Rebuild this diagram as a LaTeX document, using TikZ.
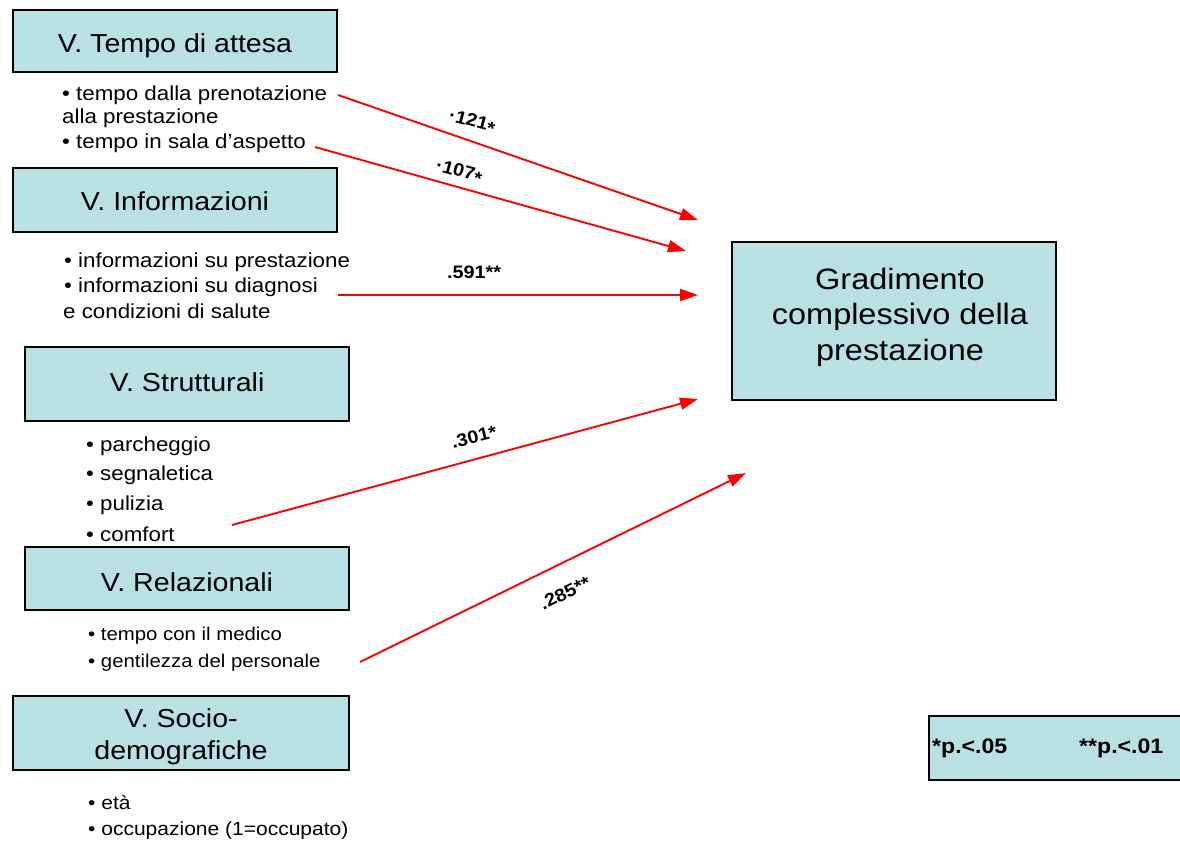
\documentclass[tikz,border=0pt]{standalone}
\usepackage{fontspec}
\setmainfont{Liberation Sans}[FakeStretch=1.1]
\usetikzlibrary{arrows.meta}
\definecolor{boxfill}{RGB}{185,224,227}
\definecolor{arrowred}{RGB}{255,0,0}
\begin{document}
\begin{tikzpicture}[x=1pt,y=-1pt,
  vbox/.style={draw=black,line width=1.6pt,fill=boxfill,inner sep=0pt},
  boxtitle/.style={font=\fontsize{26}{32}\selectfont,inner sep=0pt,align=center},
  bulA/.style={anchor=west,inner sep=0pt,font=\fontsize{20.3}{24}\selectfont},
  bulR/.style={anchor=west,inner sep=0pt,font=\fontsize{18.5}{24}\selectfont},
  bulS/.style={anchor=west,inner sep=0pt,font=\fontsize{19.1}{24}\selectfont},
  conn/.style={draw=arrowred,line width=1.9pt,-{Triangle[length=18pt,width=12pt]}},
  coef/.style={font=\bfseries\fontsize{18}{20}\selectfont,inner sep=0pt},
  legtxt/.style={anchor=west,inner sep=0pt,font=\bfseries\fontsize{21}{24}\selectfont}
]
\useasboundingbox (0,0) rectangle (1180,845);

% left boxes
\node[vbox,minimum width=324pt,minimum height=62pt] (tempo) at (175,41) {};
\node[boxtitle,anchor=base] (tempoT) at (175,53) {V. Tempo di attesa};
\node[vbox,minimum width=324pt,minimum height=64pt] (info) at (175,200) {};
\node[boxtitle,anchor=base] (infoT) at (175,211) {V. Informazioni};
\node[vbox,minimum width=324pt,minimum height=74pt] (strut) at (187,384) {};
\node[boxtitle,anchor=base] (strutT) at (187,391) {V. Strutturali};
\node[vbox,minimum width=324pt,minimum height=63pt] (rel) at (187,578.5) {};
\node[boxtitle,anchor=base] (relT) at (187,591) {V. Relazionali};
\node[vbox,minimum width=336pt,minimum height=74pt] (socio) at (181,733) {};
\node[boxtitle] (socioT) at (181,737) {V. Socio-\\demografiche};

% target box
\node[vbox,minimum width=324pt,minimum height=158pt] (grad) at (894,321) {};
\node[inner sep=0pt,align=center,font=\fontsize{29.5}{35.5}\selectfont] (gradT) at (900,317) {Gradimento\\complessivo della\\prestazione};

% legend
\node[vbox,minimum width=256pt,minimum height=64pt] (legend) at (1057,748) {};
\node[legtxt] (leg1) at (932,748) {*p.<.05};
\node[legtxt] (leg2) at (1079,748) {**p.<.01};

% bullet texts
\node[bulA] (t1) at (62,95) {• tempo dalla prenotazione};
\node[bulA] (t1b) at (62,118) {alla prestazione};
\node[bulA] (t2) at (62,143) {• tempo in sala d’aspetto};
\node[bulA] (i1) at (64,262) {• informazioni su prestazione};
\node[bulA] (i2) at (64,287) {• informazioni su diagnosi};
\node[bulA] (i3) at (63,311) {e condizioni di salute};
\node[bulA] (s1) at (86,446) {• parcheggio};
\node[bulA] (s2) at (86,475) {• segnaletica};
\node[bulA] (s3) at (86,505) {• pulizia};
\node[bulA] (s4) at (86,534) {• comfort};
\node[bulR] (r1) at (88,636) {• tempo con il medico};
\node[bulR] (r2) at (88,663) {• gentilezza del personale};
\node[bulS] (e1) at (88,803) {• età};
\node[bulS] (e2) at (88,831) {• occupazione (1=occupato)};

% connector end points
\coordinate (a1s) at (338,95);
\coordinate (a1e) at (698,220);
\coordinate (a2s) at (315,147);
\coordinate (a2e) at (686,251);
\coordinate (a3s) at (338,295);
\coordinate (a3e) at (698,295);
\coordinate (a4s) at (232,525);
\coordinate (a4e) at (698,399);
\coordinate (a5s) at (360,662);
\coordinate (a5e) at (746,473);

\draw[conn] (a1s) -- (a1e);
\draw[conn] (a2s) -- (a2e);
\draw[conn] (a3s) -- (a3e);
\draw[conn] (a4s) -- (a4e);
\draw[conn] (a5s) -- (a5e);

% coefficients
\node[coef,rotate=-15] (c1) at (472,122) {·121\raisebox{-0.35ex}{*}};
\node[coef,rotate=-15] (c2) at (459,172) {·107\raisebox{-0.35ex}{*}};
\node[coef] (c3) at (474,272) {.591**};
\node[coef,rotate=14] (c4) at (474,437) {.301*};
\node[coef,rotate=26] (c5) at (565,593) {.285**};
\end{tikzpicture}
\end{document}
